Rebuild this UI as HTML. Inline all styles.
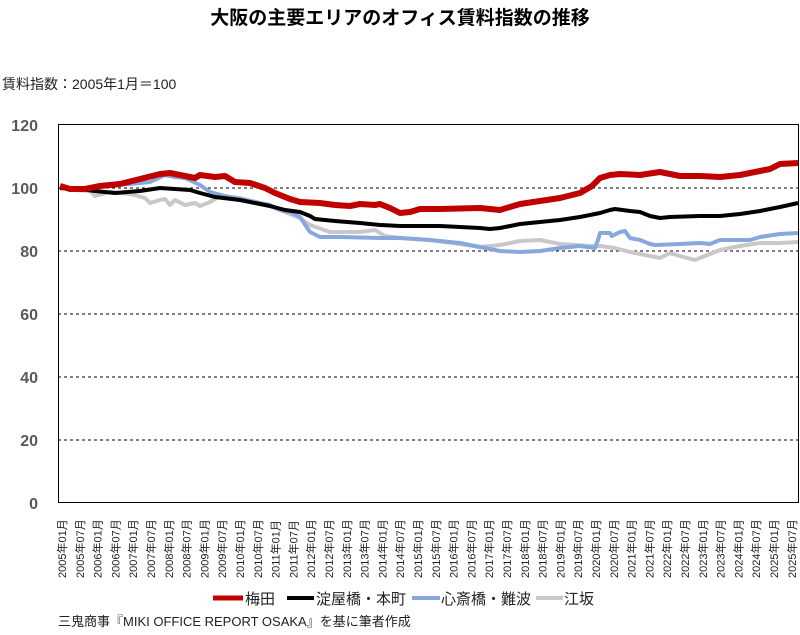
<!DOCTYPE html>
<html><head><meta charset="utf-8"><style>
body{margin:0;background:#fff;}
svg text{font-family:"Liberation Sans","Noto Sans CJK JP",sans-serif;}
</style></head><body>
<svg width="800" height="630" xmlns="http://www.w3.org/2000/svg">
<rect width="800" height="630" fill="#fff"/>
<text x="400" y="24" text-anchor="middle" font-size="19" font-weight="bold" fill="#000">大阪の主要エリアのオフィス賃料指数の推移</text>
<text x="2" y="89" font-size="14" fill="#222">賃料指数：2005年1月＝100</text>
<g stroke="#000" stroke-dasharray="3,3" stroke-width="1">
<line x1="58" x2="798" y1="188" y2="188"/><line x1="58" x2="798" y1="251" y2="251"/>
<line x1="58" x2="798" y1="314" y2="314"/><line x1="58" x2="798" y1="377" y2="377"/>
<line x1="58" x2="798" y1="440" y2="440"/>
</g>
<rect x="58.5" y="124.5" width="740" height="378" fill="none" stroke="#000"/>
<g font-size="16" font-weight="bold" fill="#595959" text-anchor="end">
<text x="38" y="131">120</text><text x="38" y="194">100</text><text x="38" y="257">80</text>
<text x="38" y="320">60</text><text x="38" y="383">40</text><text x="38" y="446">20</text><text x="38" y="509">0</text>
</g>
<g fill="none" stroke-linejoin="round">
<polyline stroke="#c8c8c8" stroke-width="4" points="60,188 75,190 90,191 95,196 110,192 130,194 145,198 150,203 160,200 165,199 170,205 175,200 185,205 195,203 200,206 210,202 220,196 240,198 260,203 280,210 300,218 310,225 330,232 360,232 375,230 385,236 400,238 430,240 460,244 480,247 500,245 520,241 540,240 560,244 590,246 600,246 615,248 630,252 650,256 660,258 670,253 680,256 695,260 705,256 720,250 740,246 760,243 780,243 798,242"/>
<polyline stroke="#86a8dc" stroke-width="4" points="60,188 80,189 95,187 110,185 130,184 150,182 165,175 175,177 185,178 200,185 210,192 225,196 250,201 270,205 280,210 290,212 300,217 310,232 320,237 340,237 380,238 400,238 430,240 460,243 480,247 500,251 520,252 540,251 560,248 580,246 595,248 598,240 600,233 610,233 612,236 620,232 625,231 630,238 640,240 650,244 655,245 680,244 700,243 710,244 720,240 750,240 760,237 780,234 798,233"/>
<polyline stroke="#000" stroke-width="4" points="60,188 80,189 95,191 115,193 140,191 160,188 175,189 190,190 200,193 215,197 240,200 255,203 270,206 285,210 300,212 310,216 315,219 335,221 360,223 380,225 400,226 440,226 460,227 480,228 490,229 500,228 520,224 540,222 560,220 580,217 600,213 610,210 615,209 630,211 640,212 650,216 660,218 670,217 700,216 720,216 740,214 760,211 780,207 798,203"/>
<polyline stroke="#c00000" stroke-width="6" points="60,186 70,189 85,189 100,186 120,184 140,179 160,174 170,173 180,175 195,178 200,175 215,177 225,176 235,182 250,183 265,188 275,193 290,199 300,202 320,203 335,205 350,206 360,204 375,205 380,204 390,208 400,213 410,212 420,209 440,209 480,208 500,210 510,207 520,204 540,201 560,198 580,193 592,186 600,178 610,175 620,174 640,175 660,172 680,176 700,176 720,177 740,175 760,171 770,169 780,164 798,163"/>
</g>
<g font-size="15" fill="#222">
<line x1="213" x2="243" y1="598" y2="598" stroke="#c00000" stroke-width="5"/><text x="245" y="604">梅田</text>
<line x1="287" x2="314" y1="598" y2="598" stroke="#000" stroke-width="4"/><text x="316" y="604">淀屋橋・本町</text>
<line x1="412" x2="440" y1="598" y2="598" stroke="#86a8dc" stroke-width="4"/><text x="441" y="604">心斎橋・難波</text>
<line x1="536" x2="563" y1="598" y2="598" stroke="#c8c8c8" stroke-width="4"/><text x="564" y="604">江坂</text>
</g>
<text x="58" y="626" font-size="13" fill="#222">三鬼商事『MIKI OFFICE REPORT OSAKA』を基に筆者作成</text>
<g font-size="11" fill="#222">
<text transform="translate(66,578) rotate(-90)">2005年01月</text>
<text transform="translate(83.8,578) rotate(-90)">2005年07月</text>
<text transform="translate(101.6,578) rotate(-90)">2006年01月</text>
<text transform="translate(119.4,578) rotate(-90)">2006年07月</text>
<text transform="translate(137.2,578) rotate(-90)">2007年01月</text>
<text transform="translate(155,578) rotate(-90)">2007年07月</text>
<text transform="translate(172.8,578) rotate(-90)">2008年01月</text>
<text transform="translate(190.6,578) rotate(-90)">2008年07月</text>
<text transform="translate(208.4,578) rotate(-90)">2009年01月</text>
<text transform="translate(226.2,578) rotate(-90)">2009年07月</text>
<text transform="translate(244,578) rotate(-90)">2010年01月</text>
<text transform="translate(261.8,578) rotate(-90)">2010年07月</text>
<text transform="translate(279.6,578) rotate(-90)">2011年01月</text>
<text transform="translate(297.4,578) rotate(-90)">2011年07月</text>
<text transform="translate(315.2,578) rotate(-90)">2012年01月</text>
<text transform="translate(333,578) rotate(-90)">2012年07月</text>
<text transform="translate(350.8,578) rotate(-90)">2013年01月</text>
<text transform="translate(368.6,578) rotate(-90)">2013年07月</text>
<text transform="translate(386.4,578) rotate(-90)">2014年01月</text>
<text transform="translate(404.2,578) rotate(-90)">2014年07月</text>
<text transform="translate(422,578) rotate(-90)">2015年01月</text>
<text transform="translate(439.8,578) rotate(-90)">2015年07月</text>
<text transform="translate(457.6,578) rotate(-90)">2016年01月</text>
<text transform="translate(475.4,578) rotate(-90)">2016年07月</text>
<text transform="translate(493.2,578) rotate(-90)">2017年01月</text>
<text transform="translate(511,578) rotate(-90)">2017年07月</text>
<text transform="translate(528.8,578) rotate(-90)">2018年01月</text>
<text transform="translate(546.6,578) rotate(-90)">2018年07月</text>
<text transform="translate(564.4,578) rotate(-90)">2019年01月</text>
<text transform="translate(582.2,578) rotate(-90)">2019年07月</text>
<text transform="translate(600,578) rotate(-90)">2020年01月</text>
<text transform="translate(617.8,578) rotate(-90)">2020年07月</text>
<text transform="translate(635.6,578) rotate(-90)">2021年01月</text>
<text transform="translate(653.4,578) rotate(-90)">2021年07月</text>
<text transform="translate(671.2,578) rotate(-90)">2022年01月</text>
<text transform="translate(689,578) rotate(-90)">2022年07月</text>
<text transform="translate(706.8,578) rotate(-90)">2023年01月</text>
<text transform="translate(724.6,578) rotate(-90)">2023年07月</text>
<text transform="translate(742.4,578) rotate(-90)">2024年01月</text>
<text transform="translate(760.2,578) rotate(-90)">2024年07月</text>
<text transform="translate(778,578) rotate(-90)">2025年01月</text>
<text transform="translate(795.8,578) rotate(-90)">2025年07月</text>
</g>
</svg>
</body></html>
